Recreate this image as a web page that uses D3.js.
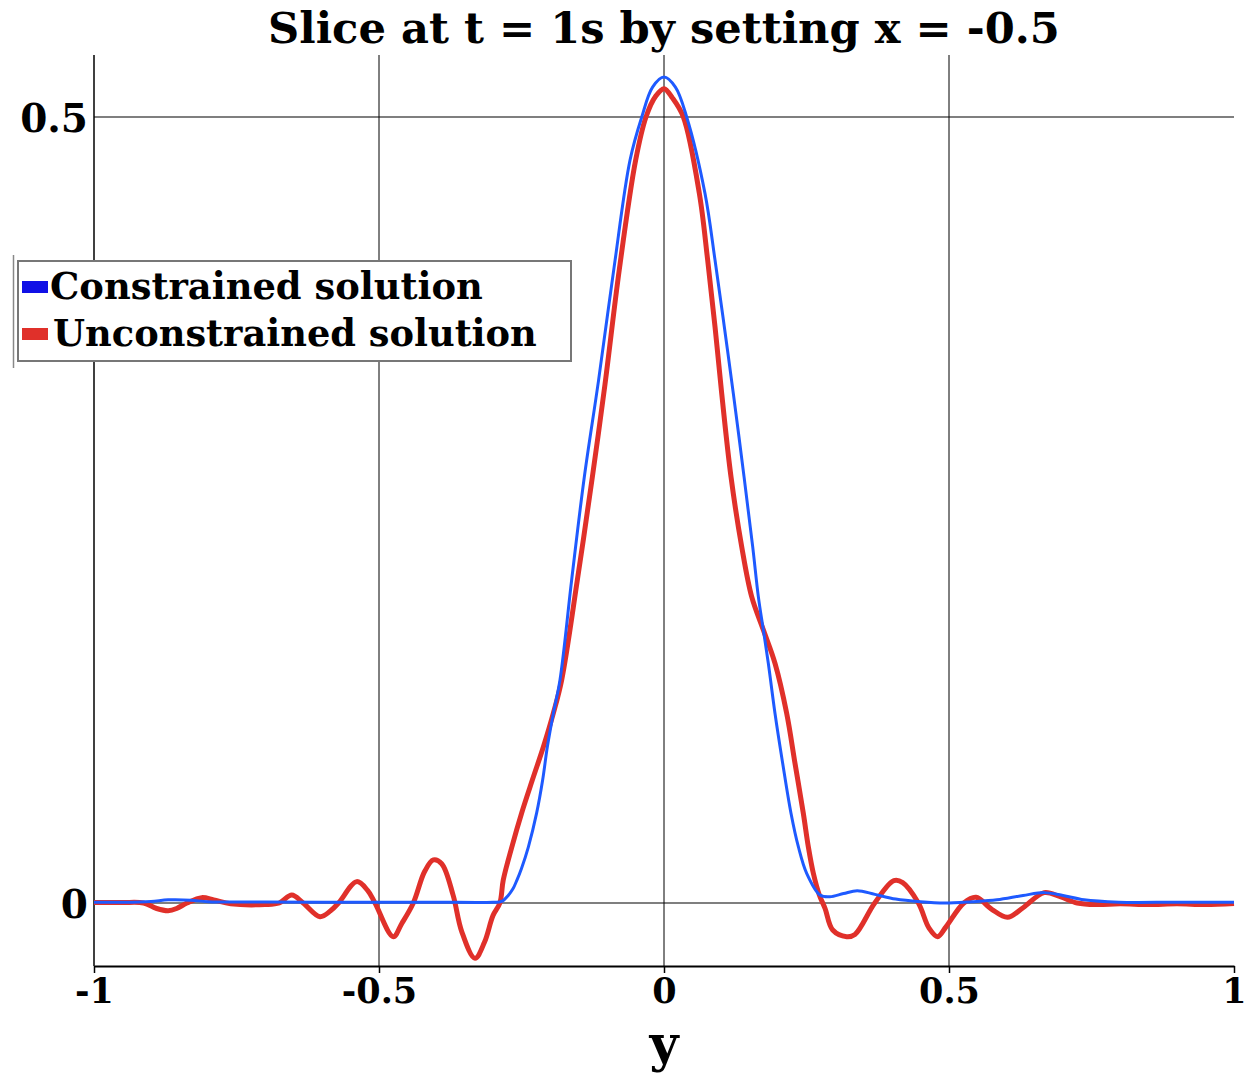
<!DOCTYPE html>
<html>
<head>
<meta charset="utf-8">
<script src="https://cdn.jsdelivr.net/npm/d3@7"></script>
<style>
  html, body { margin: 0; padding: 0; background: #fff; }
  svg { display: block; }
  text { font-family: "DejaVu Serif", "Liberation Serif", serif; font-weight: bold; fill: #000; }
</style>
</head>
<body>
<svg id="chart" width="1248" height="1076"></svg>
<script>
// ---- data ----
const titleText = "Slice at t = 1s by setting x = -0.5";
const xLabelText = "y";
const seriesNames = ["Constrained solution", "Unconstrained solution"];
const xTicks = [-1, -0.5, 0, 0.5, 1];
const xTickLabels = ["-1", "-0.5", "0", "0.5", "1"];
const yTicks = [0, 0.5];
const yTickLabels = ["0", "0.5"];

// Constrained solution: [y, value]
const constrained = [
  [-1, 0.0005], [-0.95, 0.0005], [-0.9, 0.001], [-0.87, 0.002], [-0.83, 0.0018],
  [-0.8, 0.0008], [-0.7, 0.0006], [-0.6, 0.0005], [-0.5, 0.0005], [-0.4, 0.0005],
  [-0.3, 0.0005], [-0.285, 0.001], [-0.273, 0.005], [-0.265, 0.009], [-0.258, 0.0146],
  [-0.25, 0.022], [-0.238, 0.0356], [-0.2234, 0.0573], [-0.2129, 0.0782], [-0.2047, 0.0992],
  [-0.194, 0.1209], [-0.1825, 0.1419], [-0.162, 0.2055], [-0.1398, 0.271], [-0.115, 0.332],
  [-0.0877, 0.404], [-0.0596, 0.4726], [-0.039, 0.5], [-0.02, 0.519], [0, 0.5254],
  [0.02, 0.519], [0.0398, 0.5], [0.0719, 0.4514], [0.0895, 0.409], [0.1058, 0.3666],
  [0.1216, 0.3242], [0.1404, 0.2712], [0.1556, 0.2267], [0.1655, 0.1949], [0.1743, 0.1737],
  [0.183, 0.1525], [0.1947, 0.1207], [0.2082, 0.0889], [0.2228, 0.0571], [0.2357, 0.0358],
  [0.2503, 0.0189], [0.2737, 0.0051], [0.291, 0.004], [0.315, 0.006], [0.339, 0.0078],
  [0.37, 0.0055], [0.4065, 0.0025], [0.45, 0.0008], [0.492, 0], [0.54, 0.0008],
  [0.584, 0.002], [0.63, 0.0048], [0.667, 0.0066], [0.7, 0.0048], [0.737, 0.002],
  [0.798, 0.0005], [0.9, 0.0005], [1, 0.0004]
];

// Unconstrained solution: [y, value]
const unconstrained = [
  [-1, 0.0003], [-0.95, 0.0003], [-0.913, 0], [-0.89, -0.0035], [-0.87, -0.0049],
  [-0.855, -0.0035], [-0.837, 0], [-0.811, 0.0034], [-0.79, 0.002], [-0.76, -0.0005],
  [-0.7, -0.001], [-0.675, 0], [-0.653, 0.0051], [-0.633, 0], [-0.6035, -0.0087],
  [-0.585, -0.005], [-0.571, 0], [-0.539, 0.0136], [-0.52, 0.008], [-0.507, 0],
  [-0.475, -0.0214], [-0.46, -0.013], [-0.4398, 0], [-0.42, 0.02], [-0.4047, 0.0274],
  [-0.39, 0.025], [-0.37, 0.005], [-0.355, -0.018], [-0.3316, -0.0352], [-0.315, -0.025],
  [-0.3, -0.008], [-0.288, 0], [-0.282, 0.0146], [-0.267, 0.0356], [-0.2497, 0.0573],
  [-0.231, 0.0782], [-0.2117, 0.0992], [-0.194, 0.1209], [-0.1795, 0.1419], [-0.152, 0.2055],
  [-0.1257, 0.271], [-0.1035, 0.33], [-0.0784, 0.403], [-0.0497, 0.4726], [-0.0316, 0.5],
  [-0.015, 0.513], [0, 0.518], [0.015, 0.512], [0.034, 0.5], [0.062, 0.4514],
  [0.0766, 0.409], [0.0895, 0.3666], [0.1012, 0.3242], [0.1175, 0.2712], [0.1363, 0.2267],
  [0.1538, 0.1949], [0.1743, 0.1737], [0.1947, 0.1525], [0.2152, 0.1207], [0.2298, 0.0889],
  [0.2444, 0.0571], [0.2532, 0.0358], [0.262, 0.0189], [0.2725, 0.0051], [0.2825, -0.0034],
  [0.296, -0.0172], [0.3205, -0.0214], [0.335, -0.02], [0.3697, 0], [0.4033, 0.0142],
  [0.4188, 0.013], [0.4463, 0], [0.465, -0.016], [0.48, -0.0214], [0.495, -0.015],
  [0.526, 0], [0.5474, 0.0036], [0.575, -0.004], [0.6026, -0.0091], [0.63, -0.003],
  [0.667, 0.0066], [0.695, 0.004], [0.725, 0], [0.76, -0.001], [0.8, -0.0005],
  [0.85, -0.001], [0.9, -0.0005], [0.95, -0.001], [1, -0.0003]
];

// ---- layout ----
const svg = d3.select("#chart");
const L = 94, R = 1234, T = 55, B = 966;
const x = d3.scaleLinear().domain([-1, 1]).range([L, R]);
const y = d3.scaleLinear().domain([0, 0.5]).range([903, 117]);

// fit a text element's font size so that its width equals a target
function fitWidth(sel, target, start) {
  sel.attr("font-size", start);
  const w = sel.node().getComputedTextLength();
  if (w > 0) sel.attr("font-size", start * target / w);
  return sel;
}

// gridlines
svg.append("g").selectAll("line").data(xTicks.filter(v => v > -1 && v < 1)).join("line")
  .attr("x1", d => x(d)).attr("x2", d => x(d)).attr("y1", T).attr("y2", B)
  .attr("stroke", "#000").attr("stroke-width", 1);
svg.append("g").selectAll("line").data(yTicks).join("line")
  .attr("x1", L).attr("x2", R).attr("y1", d => y(d)).attr("y2", d => y(d))
  .attr("stroke", "#000").attr("stroke-width", 1.2);

// left axis
svg.append("line").attr("x1", L).attr("x2", L).attr("y1", T).attr("y2", B)
  .attr("stroke", "#000").attr("stroke-width", 1.5);

// bottom axis
const xAxis = d3.axisBottom(x).tickValues(xTicks).tickFormat((d, i) => xTickLabels[i])
  .tickSize(7).tickSizeOuter(0);
const gx = svg.append("g").attr("transform", `translate(0,${B})`).call(xAxis);
gx.select(".domain").attr("stroke", "#000").attr("stroke-width", 2);
gx.selectAll(".tick line").attr("stroke", "#000").attr("stroke-width", 1.5);
gx.selectAll(".tick text").attr("font-size", 35).attr("font-family", "DejaVu Serif")
  .attr("font-weight", "bold").attr("fill", "#000").attr("dy", null)
  .attr("y", 37);

// y tick labels
svg.append("g").selectAll("text").data(yTicks).join("text")
  .attr("x", 88).attr("y", d => y(d) + 15)
  .attr("text-anchor", "end").attr("font-size", 39)
  .text((d, i) => yTickLabels[i]);

// lines
const line = d3.line().x(d => x(d[0])).y(d => y(d[1])).curve(d3.curveCatmullRom.alpha(0.5));
svg.append("path").datum(unconstrained).attr("d", line)
  .attr("fill", "none").attr("stroke", "#e0302a").attr("stroke-width", 5)
  .attr("stroke-linejoin", "round");
svg.append("path").datum(constrained).attr("d", line)
  .attr("fill", "none").attr("stroke", "#1e5aff").attr("stroke-width", 3)
  .attr("stroke-linejoin", "round");

// title
const title = svg.append("text").attr("x", 664).attr("y", 43).attr("text-anchor", "middle")
  .text(titleText);
fitWidth(title, 792, 46);

// x label
svg.append("text").attr("x", 664).attr("y", 1061).attr("text-anchor", "middle")
  .attr("font-size", 50).text(xLabelText);

// legend
svg.append("line").attr("x1", 13.5).attr("x2", 13.5).attr("y1", 255).attr("y2", 368)
  .attr("stroke", "#888").attr("stroke-width", 1.5);
svg.append("rect").attr("x", 18).attr("y", 261).attr("width", 553).attr("height", 100)
  .attr("fill", "#fff").attr("stroke", "#777").attr("stroke-width", 2);
const legColors = ["#1010e6", "#e0302a"];
const legBase = [299, 346];
const legTextX = [50, 53];
const legTextW = [433, 484];
seriesNames.forEach((name, i) => {
  svg.append("rect").attr("x", 22).attr("y", legBase[i] - 18).attr("width", 26).attr("height", 12)
    .attr("fill", legColors[i]);
  const t = svg.append("text").attr("x", legTextX[i]).attr("y", legBase[i]).text(name);
  fitWidth(t, legTextW[i], 40);
});
</script>
</body>
</html>
